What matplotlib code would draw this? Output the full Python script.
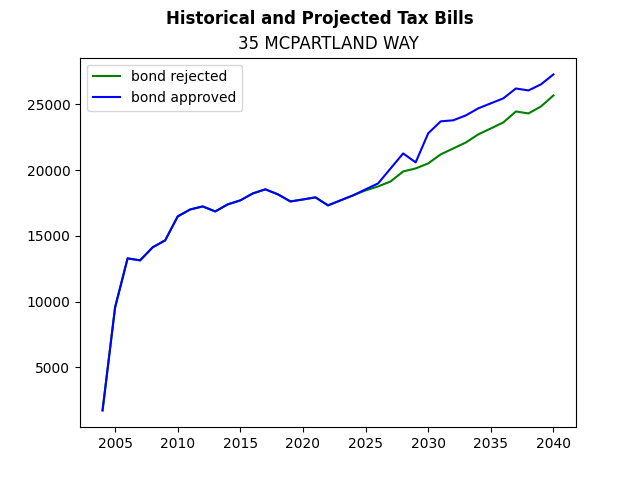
import matplotlib
matplotlib.use("Agg")
import matplotlib.pyplot as plt

years = list(range(2004, 2041))
shared = [1730, 9560, 13290, 13140, 14130, 14660, 16480, 17010, 17240, 16860,
          17400, 17700, 18230, 18540, 18160, 17620, 17770, 17930, 17320, 17700,
          18080]
rejected_tail = [18460, 18760, 19140, 19900, 20130, 20510, 21200, 21650, 22100,
                 22720, 23170, 23630, 24460, 24310, 24840, 25680]
approved_tail = [18540, 18990, 20130, 21270, 20590, 22800, 23710, 23790, 24160,
                 24700, 25080, 25460, 26210, 26060, 26520, 27280]
rejected = shared + rejected_tail
approved = shared + approved_tail

fig, ax = plt.subplots(figsize=(6.4, 4.8), dpi=100)
ax.plot(years, rejected, color="green", label="bond rejected")
ax.plot(years, approved, color="blue", label="bond approved")
fig.suptitle("Historical and Projected Tax Bills", fontweight="bold")
ax.set_title("35 MCPARTLAND WAY")
ax.legend(loc="upper left")
fig.savefig("out.png")
